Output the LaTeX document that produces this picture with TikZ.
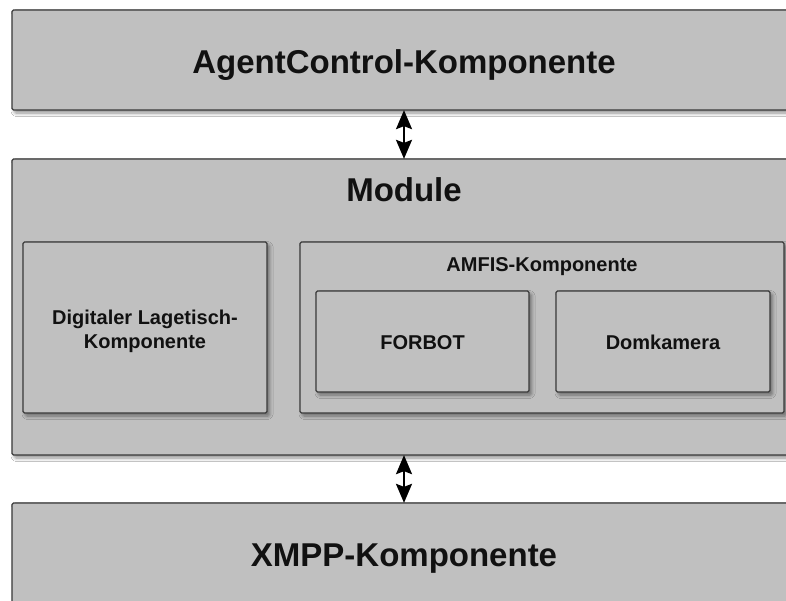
\documentclass[tikz,border=0pt]{standalone}
\usepackage{fontspec}
\setmainfont{Liberation Sans}
\usetikzlibrary{arrows.meta,shadows.blur}
\definecolor{boxfill}{RGB}{192,192,192}
\definecolor{boxline}{RGB}{58,58,58}
\definecolor{labeltext}{RGB}{17,17,17}
\begin{document}
\begin{tikzpicture}[x=1pt,y=-1pt,
  comp/.style={draw=boxline, line width=1.3pt, fill=boxfill, rounded corners=1.5pt,
    blur shadow={shadow xshift=2.5pt, shadow yshift=-3pt, shadow blur radius=3.5pt,
      shadow blur steps=6, shadow opacity=45}},
  biglabel/.style={anchor=base, text=labeltext, font=\bfseries\fontsize{33}{38}\selectfont, inner sep=0pt},
  smalllabel/.style={anchor=base, text=labeltext, font=\bfseries\fontsize{20}{24}\selectfont, inner sep=0pt, align=center},
  link/.style={{Stealth[length=19pt,width=16pt,inset=3pt]}-{Stealth[length=19pt,width=16pt,inset=3pt]}, line width=2pt, black, shorten <=-0.5pt, shorten >=-0.5pt}
]
\useasboundingbox (0,0) rectangle (786,600);
\clip (0,0) rectangle (786,600);
\fill[white] (0,0) rectangle (786,600);

% upper layer
\node[comp, minimum width=784pt, minimum height=100pt, inner sep=0pt] (agent) at (404,60) {};
\node[biglabel] (agentlbl) at (404,73) {AgentControl-Komponente};

% module container
\node[comp, minimum width=784pt, minimum height=296pt, inner sep=0pt] (module) at (404,307) {};
\node[biglabel] (modulelbl) at (404,201) {Module};

% digital map table component
\node[comp, minimum width=244pt, minimum height=171pt, inner sep=0pt] (lagetisch) at (145,327.5) {};
\node[smalllabel] (lagetischlbl) at (145,324) {Digitaler Lagetisch-};
\node[smalllabel] (lagetischlbl2) at (145,348) {Komponente};

% AMFIS component with its two parts
\node[comp, minimum width=484pt, minimum height=171pt, inner sep=0pt] (amfis) at (542,327.5) {};
\node[smalllabel] (amfislbl) at (542,271) {AMFIS-Komponente};
\node[comp, minimum width=213pt, minimum height=101pt, inner sep=0pt] (forbot) at (422.5,341.5) {};
\node[smalllabel] (forbotlbl) at (422.5,349) {FORBOT};
\node[comp, minimum width=214pt, minimum height=101pt, inner sep=0pt] (dom) at (663,341.5) {};
\node[smalllabel] (domlbl) at (663,349) {Domkamera};

% lower layer
\node[comp, minimum width=784pt, minimum height=117pt, inner sep=0pt] (xmpp) at (404,561.5) {};
\node[biglabel] (xmpplbl) at (404,566) {XMPP-Komponente};

% connections between the layers
\draw[link] (agent.south) -- (module.north);
\draw[link] (module.south) -- (xmpp.north);
\end{tikzpicture}
\end{document}
